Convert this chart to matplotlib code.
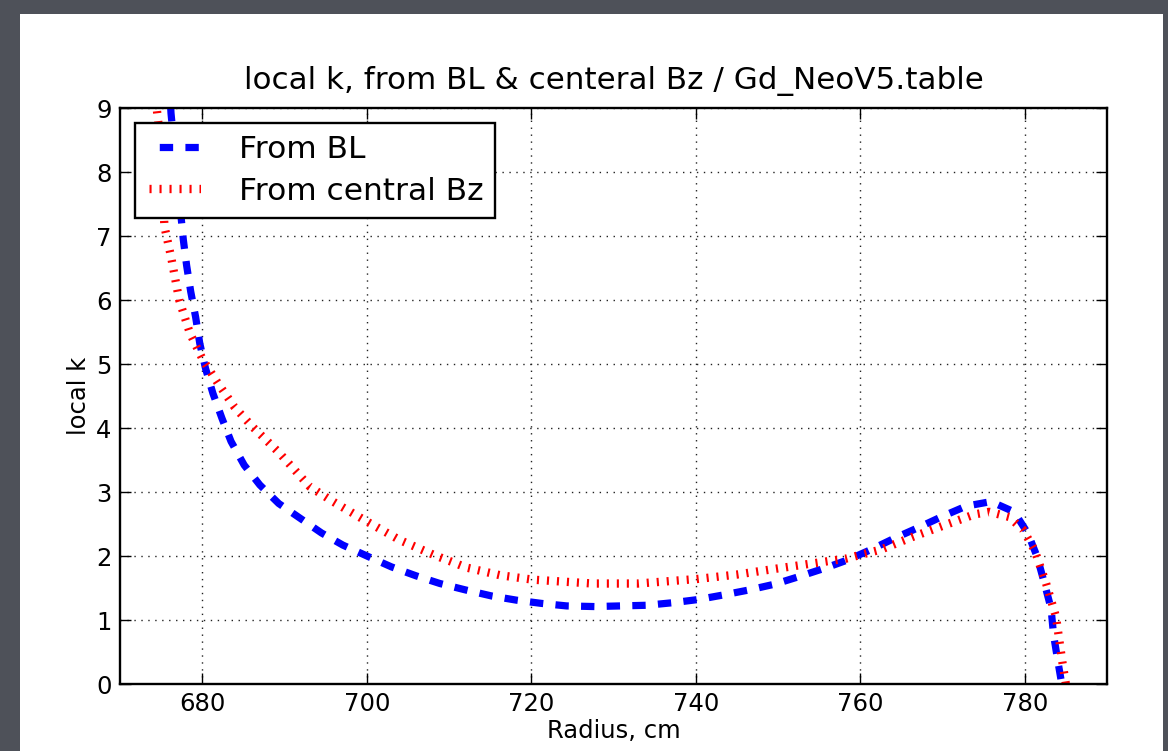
import matplotlib
matplotlib.use("Agg")
import matplotlib.pyplot as plt
from matplotlib.patches import Rectangle

# Data
bl_r = [676.0, 676.2, 677.4, 677.7, 678.1, 678.6, 679.2, 679.7, 680.4, 681.3, 682.4, 683.5,
        685.1, 687.0, 689.3, 691.9, 694.5, 697.1, 700.2, 703.0, 706.0, 708.9, 712.0, 715.2,
        718.2, 721.2, 724.3, 727.7, 730.8, 734.0, 737.2, 740.3, 743.3, 746.5, 749.6, 752.6,
        755.7, 758.5, 761.3, 764.2, 767.0, 770.0, 772.9, 775.9, 778.7, 780.4, 781.5, 782.4,
        783.2, 783.5, 784.0, 784.5]
bl_k = [9.4, 8.92, 7.33, 6.94, 6.54, 6.13, 5.73, 5.32, 4.93, 4.54, 4.15, 3.79,
        3.42, 3.11, 2.82, 2.59, 2.36, 2.17, 1.99, 1.83, 1.69, 1.57, 1.47, 1.375,
        1.31, 1.26, 1.22, 1.21, 1.22, 1.23, 1.27, 1.32, 1.39, 1.47, 1.56, 1.68,
        1.81, 1.94, 2.10, 2.28, 2.44, 2.62, 2.78, 2.85, 2.69, 2.35, 1.99, 1.57,
        1.18, 0.77, 0.375, 0.0]

bz_r = [674.5, 674.9, 675.4, 676.2, 677.2, 678.5, 680.1, 681.9, 683.9, 686.1, 689.3,
        693.1, 695.9, 700.0, 704.0, 708.1, 712.1, 716.2, 720.2, 727.5, 733.0, 740.1,
        745.0, 750.2, 758.3, 762.5, 766.4, 770.0, 773.9, 775.7, 778.1, 779.8, 781.2,
        782.6, 783.8, 784.6, 785.0]
bz_k = [8.95, 8.5, 7.15, 6.68, 6.0, 5.48, 5.06, 4.70, 4.33, 4.02, 3.62,
        3.08, 2.85, 2.54, 2.25, 2.02, 1.82, 1.70, 1.63, 1.57, 1.57, 1.64,
        1.71, 1.81, 1.96, 2.10, 2.30, 2.47, 2.65, 2.69, 2.61, 2.41, 2.09,
        1.57, 1.05, 0.32, 0.0]

title = "local k, from BL & centeral Bz / Gd_NeoV5.table"
xlabel = "Radius, cm"
ylabel = "local k"
labels = ["From BL", "From central Bz"]

W, H = 1168, 751
fig = plt.figure(figsize=(W / 100, H / 100), dpi=100, facecolor="#4e5159")
fig.patches.append(Rectangle((20 / W, 0), (1163 - 20) / W, (751 - 14) / H,
                             transform=fig.transFigure, facecolor="white",
                             edgecolor="none", zorder=-5))

ax = fig.add_axes([120 / W, (751 - 684) / H, (1107 - 120) / W, (684 - 108) / H])
ax.set_zorder(2)
ax.set_facecolor("white")

BLUE_LS = (0, (1.85, 1.7))
RED_LS = (0, (0.25, 0.95))
lb, = ax.plot(bl_r, bl_k, color="blue", lw=5.2, linestyle=BLUE_LS, label=labels[0],
              dash_capstyle="butt")
lr, = ax.plot(bz_r, bz_k, color="red", lw=6.0, linestyle=RED_LS, label=labels[1],
              dash_capstyle="butt")

ax.set_xlim(670, 790)
ax.set_ylim(0, 9)
ax.set_xticks([680, 700, 720, 740, 760, 780])
ax.set_yticks(range(0, 10))
ax.grid(True, color="#222222", linestyle=(0, (1, 4)), linewidth=1.0)
ax.tick_params(direction="in", length=8, width=1, labelsize=17.5, top=True, right=True,
               pad=6)
for s in ax.spines.values():
    s.set_linewidth(1.7)

ax.set_title(title, fontsize=22.3, pad=14)
ax.set_xlabel(xlabel, fontsize=17.5, labelpad=2)
ax.set_ylabel(ylabel, fontsize=17.5, labelpad=4)

leg = ax.legend(loc="upper left", bbox_to_anchor=(0.0152, 0.974), borderaxespad=0,
                fontsize=22.5, fancybox=False, framealpha=1, edgecolor="black",
                handlelength=1.74, handletextpad=1.2, borderpad=0.38, labelspacing=0.42)
leg.get_frame().set_linewidth(1.7)
hl = leg.get_lines()
hl[0].set_linestyle((1.85, (1.85, 1.7)))
hl[1].set_linestyle((0.9, (0.25, 0.95)))

fig.savefig("out.png", dpi=100, facecolor=fig.get_facecolor())
